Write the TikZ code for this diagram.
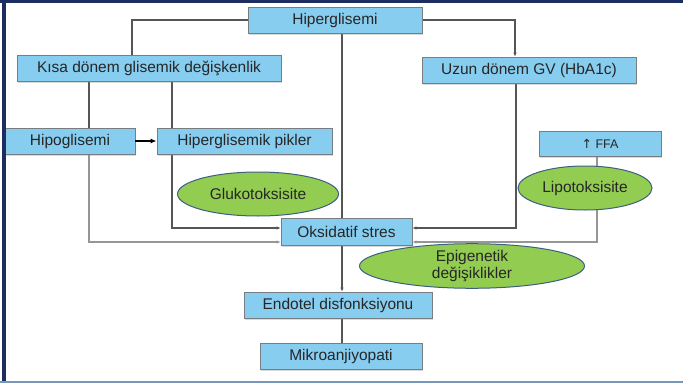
\documentclass[tikz,border=0pt]{standalone}
\usepackage{fontspec}
\setmainfont{Liberation Sans}
\newfontfamily\oklar{DejaVu Sans}
\usetikzlibrary{shapes,backgrounds,shadows,arrows.meta}
\definecolor{kutumavi}{RGB}{135,205,240}
\definecolor{kenar}{RGB}{120,125,130}
\definecolor{yesil}{RGB}{146,204,80}
\definecolor{halka}{RGB}{60,95,130}
\definecolor{cizgi}{RGB}{85,85,85}
\definecolor{acik}{RGB}{150,150,150}
\definecolor{lacivert}{RGB}{30,45,95}
\definecolor{altcizgi}{RGB}{120,150,185}

\begin{document}
\begin{tikzpicture}[x=1pt,y=-1pt,>={Latex[length=4pt,width=3.5pt]}]

  \tikzstyle{every node}=[font=\fontsize{15.5}{17}\selectfont,align=center,text=black!85,inner sep=0pt]
  \tikzstyle{kutu}=[rectangle,fill=kutumavi,draw=kenar,line width=.8pt,minimum height=26pt,
    drop shadow={shadow xshift=1pt,shadow yshift=-1.5pt,opacity=.3}]
  \tikzstyle{oval}=[ellipse,fill=yesil,draw=halka,line width=1pt]
  \tikzstyle{bag}=[draw=cizgi,line width=1.1pt]
  \tikzstyle{soluk}=[draw=acik,line width=1.1pt]

  \useasboundingbox (0,0) rectangle (683,383);

  \node[kutu,minimum width=174pt] (hiper) at (335,20) {Hiperglisemi};
  \node[kutu,minimum width=264pt] (kisa) at (149,68) {Kısa dönem glisemik değişkenlik};
  \node[kutu,minimum width=214pt] (uzun) at (529,70) {Uzun dönem GV (HbA1c)};
  \node[kutu,minimum width=130pt] (hipo) at (70,141) {Hipoglisemi};
  \node[kutu,minimum width=175pt] (pikler) at (244.5,141) {Hiperglisemik pikler};
  \node[kutu,minimum width=122pt,minimum height=25pt,font=\fontsize{12.5}{14}\selectfont] (ffa) at (600,144) {{\oklar ↑} FFA};
  \node[oval,minimum width=161pt,minimum height=44pt] (gluko) at (258,194) {Glukotoksisite};
  \node[oval,minimum width=134pt,minimum height=44pt] (lipo) at (585,188) {Lipotoksisite};
  \node[kutu,minimum width=131pt,minimum height=27pt] (oks) at (346.5,231.5) {Oksidatif stres};
  \node[oval,minimum width=225pt,minimum height=42pt] (epi) at (472,266) {Epigenetik\\değişiklikler};
  \node[kutu,minimum width=188pt] (endo) at (338,305) {Endotel disfonksiyonu};
  \node[kutu,minimum width=162pt] (mikro) at (341,356) {Mikroanjiyopati};

  \begin{pgfonlayer}{background}
    \draw[bag] (hiper.west) -| ([xshift=-17pt]kisa.north);
    \draw[bag,->] (hiper.east) -| ([xshift=-14pt]uzun.north);
    \draw[bag] ([xshift=7pt]hiper.south) -- ([xshift=-4.5pt]oks.north);
    \draw[bag] ([xshift=19pt]hipo.north |- kisa.south) -- ([xshift=19pt]hipo.north);
    \draw[bag] ([xshift=-72.5pt]pikler.north |- kisa.south) -- ([xshift=-72.5pt]pikler.north);
    \draw[soluk,->] ([xshift=19pt]hipo.south) |- ([yshift=-10.5pt]oks.west);
    \draw[bag,->] ([xshift=-72.5pt]pikler.south) |- ([yshift=3.5pt]oks.west);
    \draw[bag,->] ([xshift=-13pt]uzun.south) |- ([yshift=3.5pt]oks.east);
    \draw[soluk,->] ([xshift=-3pt]ffa.south) |- ([yshift=-10.5pt]oks.east);
    \draw[bag,->] ([xshift=-4.5pt]oks.south) -- ([xshift=4pt]endo.north);
    \draw[bag] ([xshift=4pt]endo.south) -- ([xshift=1pt]mikro.north);
  \end{pgfonlayer}
  \draw[black,line width=1.6pt,-{Latex[length=6pt,width=5pt]}] (hipo) -- (pikler);

  % cerceve
  \fill[lacivert] (0,0) rectangle (683,3);
  \fill[lacivert] (2,0) rectangle (5.5,383);
  \fill[altcizgi] (0,380.5) rectangle (683,382.5);

\end{tikzpicture}
\end{document}
